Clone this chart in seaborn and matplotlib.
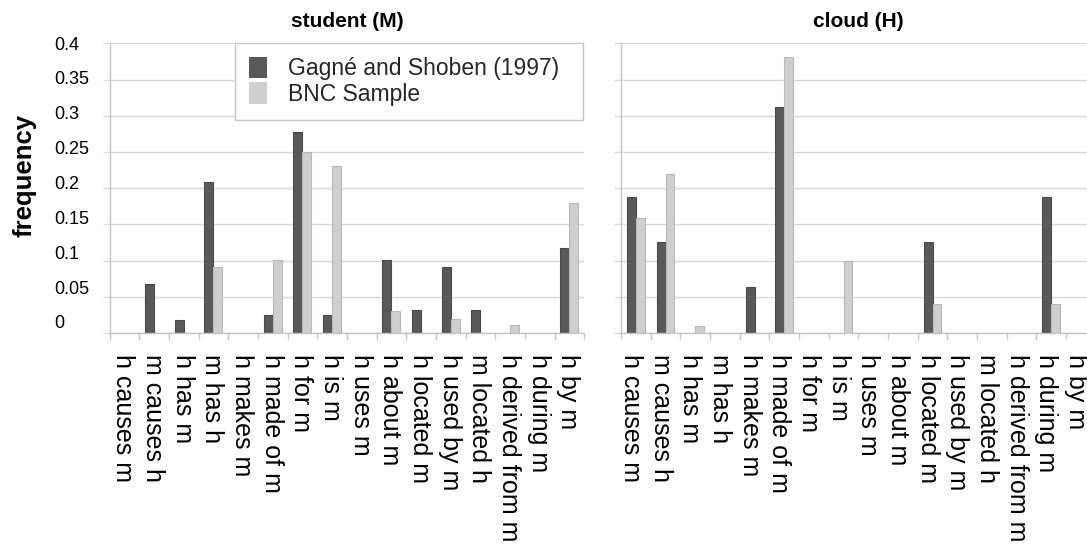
import numpy as np
import pandas as pd
import matplotlib
matplotlib.use("Agg")
import matplotlib.pyplot as plt
import seaborn as sns
from matplotlib.transforms import ScaledTranslation

# ---------------- data ----------------
relations = ["h causes m", "m causes h", "h has m", "m has h", "h makes m",
             "h made of m", "h for m", "h is m", "h uses m", "h about m",
             "h located m", "h used by m", "m located h", "h derived from m",
             "h during m", "h by m"]
sources = ["Gagné and Shoben (1997)", "BNC Sample"]
panel_titles = ["student (M)", "cloud (H)"]

student_gs = [0, 0.067, 0.018, 0.209, 0, 0.025, 0.277, 0.025, 0, 0.101,
              0.032, 0.091, 0.032, 0, 0, 0.118]
student_bnc = [0, 0, 0, 0.091, 0, 0.101, 0.250, 0.231, 0, 0.031,
               0, 0.020, 0, 0.011, 0, 0.180]
cloud_gs = [0.188, 0.125, 0, 0, 0.064, 0.3125, 0, 0, 0, 0,
            0.125, 0, 0, 0, 0.188, 0]
cloud_bnc = [0.159, 0.220, 0.010, 0, 0, 0.381, 0, 0.100, 0, 0,
             0.040, 0, 0, 0, 0.040, 0]

yticks = [0, 0.05, 0.1, 0.15, 0.2, 0.25, 0.3, 0.35, 0.4]
ytick_labels = ["0", "0.05", "0.1", "0.15", "0.2", "0.25", "0.3", "0.35", "0.4"]

# ---------------- style ----------------
sns.set_theme(style="white")
plt.rcParams["font.family"] = ["Liberation Sans", "DejaVu Sans"]

DARK = "#595959"
LIGHT = "#cfcfcf"
GRID = "#d9d9d9"
SPINE = "#c4c4c4"
palette = {sources[0]: DARK, sources[1]: LIGHT}
edges = {sources[0]: "#4a4a4a", sources[1]: "#b8b8b8"}


def make_df(gs, bnc):
    return pd.DataFrame({
        "relation": relations * 2,
        "source": [sources[0]] * len(relations) + [sources[1]] * len(relations),
        "freq": list(gs) + list(bnc),
    })


W, H = 1087, 548
fig = plt.figure(figsize=(W / 100, H / 100), dpi=100)
ax_w = 474.7 / W
ax_b = (H - 333) / H
ax_h = (333 - 43.3) / H
ax1 = fig.add_axes([109.5 / W, ax_b, ax_w, ax_h])
ax2 = fig.add_axes([621 / W, ax_b, ax_w, ax_h])

datasets = [make_df(student_gs, student_bnc), make_df(cloud_gs, cloud_bnc)]
label_shift_px = [-1, -5]

for i, (ax, df, title) in enumerate(zip([ax1, ax2], datasets, panel_titles)):
    sns.barplot(data=df, x="relation", y="freq", hue="source", order=relations,
                hue_order=sources, palette=palette, width=0.6, gap=0,
                legend=(i == 0), ax=ax, errorbar=None, saturation=1)
    for cont, src in zip(ax.containers, sources):
        for p in cont.patches:
            if p.get_height() <= 0:
                p.set_linewidth(0)
            else:
                p.set_edgecolor(edges[src])
                p.set_linewidth(0.8)

    ax.set_xlim(-0.5, len(relations) - 0.5)
    ax.set_ylim(0, 0.4)
    ax.set_xlabel("")
    ax.set_ylabel("")
    ax.set_title(title, fontsize=15, fontweight="bold", pad=12, color="black")

    ax.set_xticks(range(len(relations)))
    ax.set_xticklabels(relations, rotation=270, ha="center", va="top",
                       fontsize=18, color="black")
    ax.set_xticks(np.arange(-0.5, len(relations), 1.0), minor=True)
    ax.tick_params(axis="x", which="major", length=0, pad=15)
    ax.tick_params(axis="x", which="minor", length=4.5, width=1,
                   color=SPINE, direction="out", bottom=True)

    ax.set_yticks(yticks)
    ax.yaxis.grid(True, color=GRID, linewidth=1)
    ax.xaxis.grid(False)
    ax.set_axisbelow(True)
    ax.tick_params(axis="y", which="major", length=5, width=1, color=GRID,
                   direction="out", left=True)

    for s in ["top", "right"]:
        ax.spines[s].set_visible(False)
    for s in ["left", "bottom"]:
        ax.spines[s].set_color(SPINE)
        ax.spines[s].set_linewidth(1)

# y tick labels on left panel only
ax1.set_yticklabels(ytick_labels, fontsize=13, color="black")
ax1.tick_params(axis="y", pad=34.6)
for t in ax1.get_yticklabels():
    t.set_ha("left")
ax2.tick_params(axis="y", labelleft=False)

# slight offsets of tick labels as in reference
for tick, v in zip(ax1.yaxis.get_major_ticks(), yticks):
    dy = (11 - 26.75 * v) / 100.0
    tick.label1.set_transform(tick.label1.get_transform()
                              + ScaledTranslation(0, dy, fig.dpi_scale_trans))
for ax, sh in zip([ax1, ax2], label_shift_px):
    for tick in ax.xaxis.get_major_ticks():
        tick.label1.set_transform(tick.label1.get_transform()
                                  + ScaledTranslation(sh / 100.0, 0, fig.dpi_scale_trans))

ax1.set_ylabel("frequency", fontsize=18.5, fontweight="bold", color="black")
ax1.yaxis.set_label_coords(-0.153, 0.545)

# legend
handles, labels = ax1.get_legend_handles_labels()
if ax1.get_legend() is not None:
    ax1.get_legend().remove()
leg_x0 = (235 - 109.5) / 474.7
leg_w = (583 - 235) / 474.7
leg = ax1.legend(handles, labels, loc="upper left",
                 bbox_to_anchor=(leg_x0, 0.0, leg_w, 1.0), mode="expand",
                 borderaxespad=0, fontsize=16.5, frameon=True, fancybox=False,
                 edgecolor=SPINE, framealpha=1, handlelength=0.8,
                 handleheight=1.05, handletextpad=0.9, labelspacing=0.08,
                 borderpad=0.6)
leg.get_frame().set_linewidth(1)
for h in leg.legend_handles:
    h.set_linewidth(0)

fig.savefig("out.png", dpi=100)
